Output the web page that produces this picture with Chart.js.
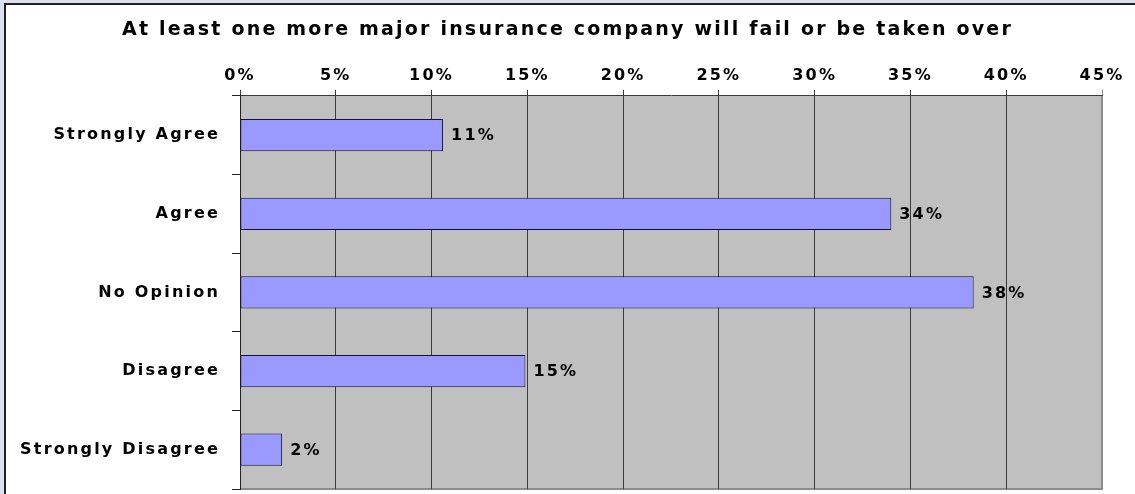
<!DOCTYPE html>
<html>
<head>
<meta charset="utf-8">
<title>Insurance company survey</title>
<script src="https://cdn.jsdelivr.net/npm/chart.js@4"></script>
<style>
    html, body { margin: 0; padding: 0; }
    body { width: 1135px; height: 494px; background: #dde0ef; position: relative; overflow: hidden; }
    #frame {
        position: absolute; left: 4px; top: 3px; right: 0; bottom: 0;
        background: #fff; border-left: 2px solid #222; border-top: 2px solid #222;
    }
    #wrap { position: absolute; left: 0; top: 0; width: 1135px; height: 494px; }
</style>
</head>
<body>
<div id="frame"></div>
<div id="wrap"><canvas id="surveyChart"></canvas></div>
<script>
const chartTitle = 'At least one more major insurance company will fail or be taken over';
const categories = ['Strongly Agree', 'Agree', 'No Opinion', 'Disagree', 'Strongly Disagree'];
const shares = [10.6, 34.0, 38.3, 14.9, 2.2];
const axisMax = 45;
const axisStep = 5;

const FONT = "'DejaVu Sans', sans-serif";
const SPACING = '2.2px';

// wide lettering; the canvas state is reset on resize so set it before layout and draw
const wideText = {
    id: 'wideText',
    beforeLayout(chart) { chart.ctx.letterSpacing = SPACING; },
    beforeDraw(chart) { chart.ctx.letterSpacing = SPACING; }
};

// grey plot background with a lighter right/bottom edge
const plotBackground = {
    id: 'plotBackground',
    beforeDraw(chart) {
        const { ctx, chartArea: a } = chart;
        ctx.save();
        ctx.fillStyle = '#c0c0c0';
        ctx.fillRect(a.left, a.top, a.right - a.left, a.bottom - a.top);
        ctx.strokeStyle = '#8c8c8c';
        ctx.lineWidth = 2;
        ctx.beginPath();
        ctx.moveTo(a.right, a.top);
        ctx.lineTo(a.right, a.bottom);
        ctx.lineTo(a.left, a.bottom);
        ctx.stroke();
        ctx.restore();
    }
};

// percentage label just past the end of each bar
const barLabels = {
    id: 'barLabels',
    afterDatasetsDraw(chart) {
        const { ctx } = chart;
        const meta = chart.getDatasetMeta(0);
        ctx.save();
        ctx.font = 'bold 16px ' + FONT;
        ctx.fillStyle = '#000';
        ctx.textAlign = 'left';
        ctx.textBaseline = 'middle';
        meta.data.forEach((bar, i) => {
            ctx.fillText(Math.round(shares[i]) + '%', bar.x + 8, bar.y + 1);
        });
        ctx.restore();
    }
};

new Chart(document.getElementById('surveyChart'), {
    type: 'bar',
    data: {
        labels: categories,
        datasets: [{
            data: shares,
            backgroundColor: '#9999ff',
            borderColor: '#111133',
            borderWidth: 1,
            borderSkipped: false,
            barPercentage: 0.41,
            categoryPercentage: 1
        }]
    },
    options: {
        indexAxis: 'y',
        responsive: true,
        maintainAspectRatio: false,
        animation: false,
        layout: { padding: { top: 0, right: 0, bottom: 5, left: 0 } },
        plugins: {
            legend: { display: false },
            tooltip: { enabled: false },
            title: {
                display: true,
                text: chartTitle,
                color: '#000',
                font: { family: FONT, size: 19, weight: 'bold' },
                padding: { top: 19, bottom: 0 }
            }
        },
        scales: {
            x: {
                position: 'top',
                min: 0,
                max: axisMax,
                afterFit(scale) { scale.height = 54; },
                ticks: {
                    stepSize: axisStep,
                    padding: 4,
                    color: '#000',
                    font: { family: FONT, size: 16, weight: 'bold' },
                    callback: v => v + '%'
                },
                grid: {
                    color: c => (c.tick && c.tick.value === axisMax) ? '#8c8c8c' : '#3a3a3a',
                    lineWidth: 1,
                    tickLength: 6
                },
                border: { color: '#3a3a3a', width: 1 }
            },
            y: {
                afterFit(scale) {
                    scale.width = 240;
                    scale.paddingTop = 0;
                    scale.paddingBottom = 0;
                },
                ticks: {
                    padding: 12,
                    color: '#000',
                    font: { family: FONT, size: 16, weight: 'bold' }
                },
                grid: { drawOnChartArea: false, color: '#222', tickLength: 8, offset: true },
                border: { color: '#222', width: 1 }
            },
            // empty right-hand margin so the title centres across the whole frame
            yRight: {
                type: 'linear',
                position: 'right',
                ticks: { display: false },
                grid: { display: false },
                border: { display: false },
                afterFit(scale) {
                    scale.width = 33;
                    scale.paddingTop = 0;
                    scale.paddingBottom = 0;
                }
            }
        }
    },
    plugins: [wideText, plotBackground, barLabels]
});
</script>
</body>
</html>
